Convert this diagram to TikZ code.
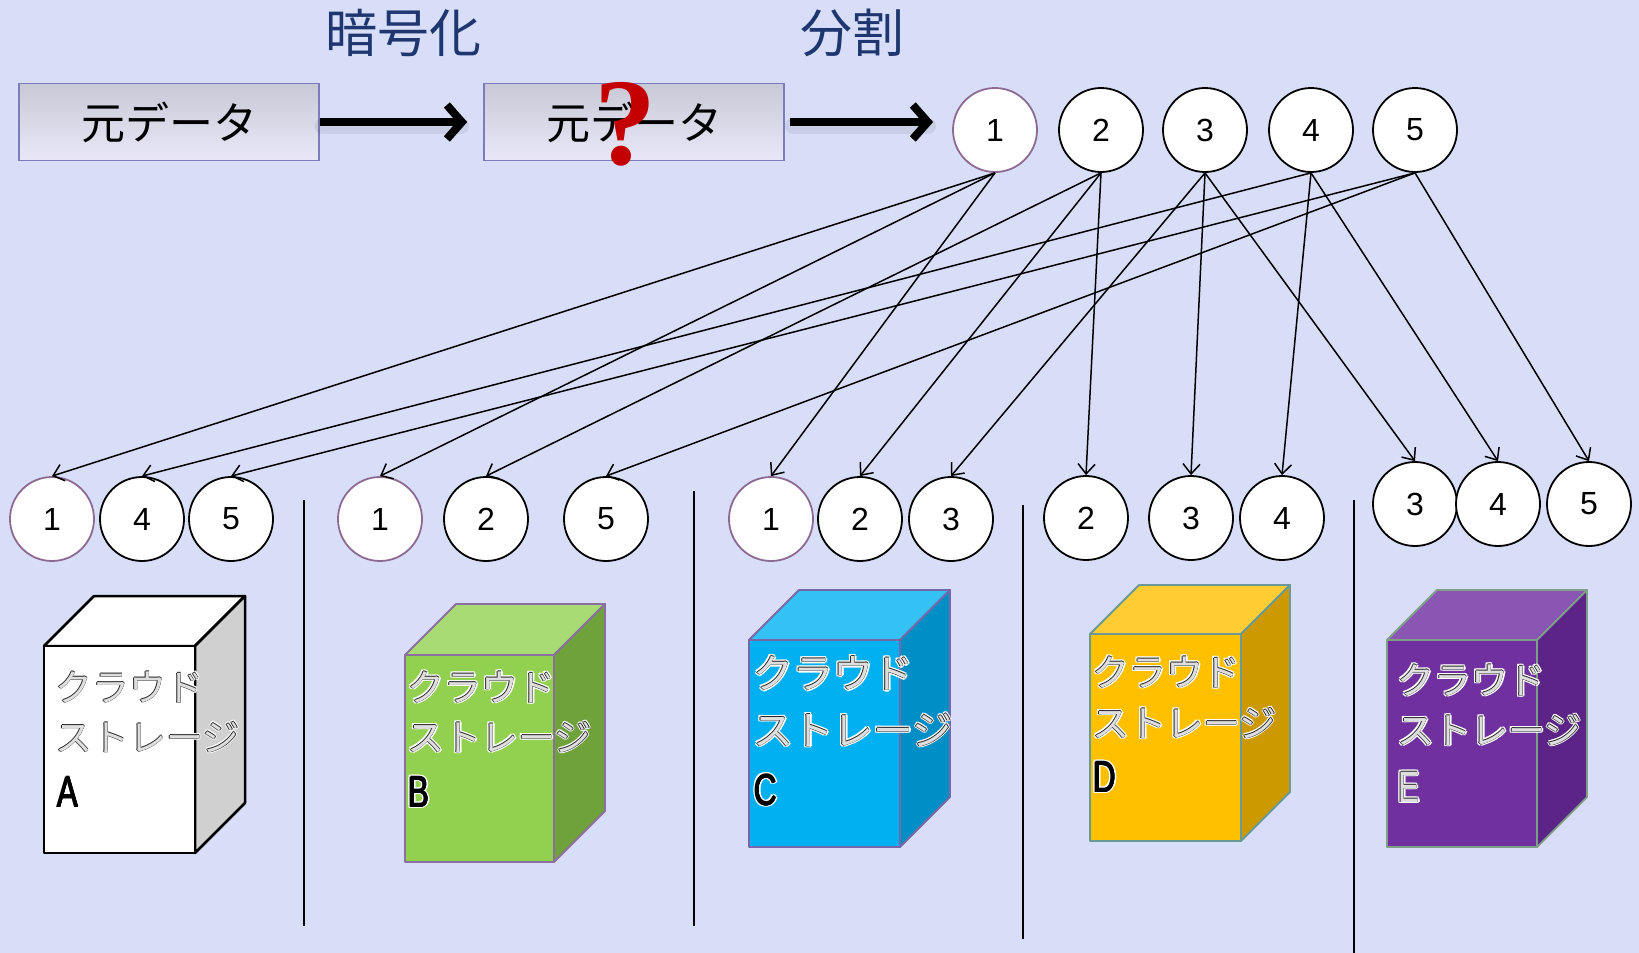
\documentclass[tikz,border=0pt]{standalone}
\usepackage{fontspec}
\usepackage{graphicx}
\setmainfont{Liberation Sans}
\newfontfamily\jp{Noto Sans CJK JP}
\newfontfamily\qfam{Liberation Serif}
\usetikzlibrary{arrows.meta}

\definecolor{bg}{RGB}{217,222,248}
\definecolor{navy}{RGB}{30,55,112}
\definecolor{boxedge}{RGB}{123,125,186}
\definecolor{boxtop}{RGB}{200,200,214}
\definecolor{boxbot}{RGB}{234,232,248}
\definecolor{mauve}{RGB}{140,106,146}
\definecolor{qred}{RGB}{196,0,0}
\definecolor{kana}{RGB}{222,222,222}
\definecolor{inkedge}{RGB}{35,35,35}
% cube colours
\definecolor{aside}{RGB}{208,208,208}
\definecolor{bfront}{RGB}{146,208,80}
\definecolor{btop}{RGB}{168,219,116}
\definecolor{bside}{RGB}{112,162,60}
\definecolor{bedge}{RGB}{140,111,160}
\definecolor{cfront}{RGB}{0,176,240}
\definecolor{ctop}{RGB}{51,194,243}
\definecolor{cside}{RGB}{0,142,198}
\definecolor{cedge}{RGB}{118,104,168}
\definecolor{dfront}{RGB}{255,192,0}
\definecolor{dtop}{RGB}{255,204,51}
\definecolor{dside}{RGB}{204,154,0}
\definecolor{dedge}{RGB}{106,154,152}
\definecolor{efront}{RGB}{112,48,160}
\definecolor{etop}{RGB}{139,86,179}
\definecolor{eside}{RGB}{91,36,134}
\definecolor{eedge}{RGB}{126,158,136}

% one shifted copy of a text
\newcommand\gcopy[4]{\rlap{\hspace*{#1}\raisebox{#2}{\textcolor{#3}{#4}}}}
% text with a white glow and a thin dark rim
\newcommand\halo[3]{%
  \gcopy{1.8pt}{0pt}{white}{#3}\gcopy{-1.8pt}{0pt}{white}{#3}%
  \gcopy{0pt}{1.8pt}{white}{#3}\gcopy{0pt}{-1.8pt}{white}{#3}%
  \gcopy{1.3pt}{1.3pt}{white}{#3}\gcopy{-1.3pt}{1.3pt}{white}{#3}%
  \gcopy{1.3pt}{-1.3pt}{white}{#3}\gcopy{-1.3pt}{-1.3pt}{white}{#3}%
  \gcopy{0.6pt}{0pt}{#2}{#3}\gcopy{-0.6pt}{0pt}{#2}{#3}%
  \gcopy{0pt}{0.6pt}{#2}{#3}\gcopy{0pt}{-0.6pt}{#2}{#3}%
  \textcolor{#1}{#3}}
\newcommand\letterglyph[1]{\scalebox{0.72}[1]{\fontsize{44}{44}\selectfont #1}}

% storage cube: x, y (front top-left), width, height, depth, front, top, side, edge style
\newcommand\storagebox[9]{%
  \filldraw[fill=#7,#9,line join=round] (#1,#2) -- ++(#5,-#5) -- ++(#3,0) -- ++(-#5,#5) -- cycle;
  \filldraw[fill=#8,#9,line join=round] (#1+#3,#2) -- ++(#5,-#5) -- ++(0,#4) -- ++(-#5,#5) -- cycle;
  \filldraw[fill=#6,#9,line join=round] (#1,#2) rectangle ++(#3,#4);
}

\begin{document}
\begin{tikzpicture}[x=1pt,y=-1pt,
  databox/.style={draw=boxedge,line width=1.6pt,top color=boxtop,bottom color=boxbot,
    minimum width=300pt,minimum height=77pt,inner sep=0pt,font=\jp\fontsize{44}{44}\selectfont},
  heading/.style={text=navy,inner sep=0pt,font=\jp\fontsize{52}{52}\selectfont},
  piece/.style={circle,draw=black,line width=1.8pt,fill=white,minimum size=84pt,inner sep=0pt,
    font=\fontsize{32}{32}\selectfont},
  piecefirst/.style={piece,draw=mauve},
  link/.style={line width=1.5pt,-{Straight Barb[length=10pt,width=17pt]}},
  bigarrow/.style={line width=8pt,-{Straight Barb[length=15pt,width=34pt]}},
  arrowshade/.style={line width=16pt,black,opacity=0.07,line cap=round},
  divider/.style={line width=2pt},
  kanatext/.style={anchor=west,inner sep=0pt,font=\jp\fontsize{37}{37}\selectfont},
  kanabig/.style={anchor=west,inner sep=0pt,font=\jp\fontsize{40}{40}\selectfont},
  lettertext/.style={anchor=west,inner sep=0pt},
]
\useasboundingbox (0,0) rectangle (1639,953);
\fill[bg] (0,0) rectangle (1639,953);

% headings
\node[heading] (encLabel) at (403,33) {暗号化};
\node[heading] (splitLabel) at (852,33) {分割};

% data boxes
\node[databox] (src) at (169,122) {元データ};
\node[databox] (enc) at (634,122) {元データ};
\node[text=qred,inner sep=0pt,font=\qfam\bfseries\fontsize{124}{124}\selectfont] (qmark) at (625,124) {?};

% fragments after splitting
\node[piecefirst] (t1) at (995,130) {1};
\node[piece] (t2) at (1101,130) {2};
\node[piece] (t3) at (1205,130) {3};
\node[piece] (t4) at (1311,130) {4};
\node[piece] (t5) at (1415,130) {5};

% thick process arrows
\draw[arrowshade] ([xshift=3pt,yshift=-4pt]src.east) -- ([xshift=-22pt,yshift=-4pt]enc.west);
\draw[arrowshade] ([xshift=8pt,yshift=-4pt]enc.east) -- ([xshift=-24pt,yshift=-4pt]enc.east -| t1.west);
\draw[bigarrow,shorten >=16pt] (src.east) -- (enc.west);
\draw[bigarrow,shorten <=5pt,shorten >=19pt] (enc.east) -- (enc.east -| t1.west);

% fragments held by each storage
\node[piecefirst] (a1) at (52,519) {1};
\node[piece] (a4) at (142,519) {4};
\node[piece] (a5) at (231,519) {5};
\node[piecefirst] (b1) at (380,519) {1};
\node[piece] (b2) at (486,519) {2};
\node[piece] (b5) at (606,519) {5};
\node[piecefirst] (c1) at (771,519) {1};
\node[piece] (c2) at (860,519) {2};
\node[piece] (c3) at (951,519) {3};
\node[piece] (d2) at (1086,518) {2};
\node[piece] (d3) at (1191,518) {3};
\node[piece] (d4) at (1282,518) {4};
\node[piece] (e3) at (1415,504) {3};
\node[piece] (e4) at (1498,504) {4};
\node[piece] (e5) at (1589,504) {5};

% distribution of fragments
\draw[link] (t1.south) -- (a1.north);
\draw[link] (t1.south) -- (b1.north);
\draw[link] (t1.south) -- (c1.north);
\draw[link] (t2.south) -- (b2.north);
\draw[link] (t2.south) -- (c2.north);
\draw[link] (t2.south) -- (d2.north);
\draw[link] (t3.south) -- (c3.north);
\draw[link] (t3.south) -- (d3.north);
\draw[link] (t3.south) -- (e3.north);
\draw[link] (t4.south) -- (a4.north);
\draw[link] (t4.south) -- (d4.north);
\draw[link] (t4.south) -- (e4.north);
\draw[link] (t5.south) -- (a5.north);
\draw[link] (t5.south) -- (b5.north);
\draw[link] (t5.south) -- (e5.north);

% column dividers
\draw[divider] (304,500) -- (304,926);
\draw[divider] (694,491) -- (694,926);
\draw[divider] (1023,505) -- (1023,939);
\draw[divider] (1354,500) -- (1354,953);

% storage cubes
\storagebox{44}{646}{151}{207}{50}{white}{white}{aside}{draw=black,line width=2.5pt}
\storagebox{405}{655}{149}{207}{51}{bfront}{btop}{bside}{draw=bedge,line width=1.8pt}
\storagebox{749}{640}{151}{207}{50}{cfront}{ctop}{cside}{draw=cedge,line width=1.8pt}
\storagebox{1090}{634}{151}{207}{49}{dfront}{dtop}{dside}{draw=dedge,line width=1.8pt}
\storagebox{1387}{640}{150}{207}{50}{efront}{etop}{eside}{draw=eedge,line width=1.8pt}

% storage labels
\node[kanatext] (a1t) at (55,687) {\halo{kana}{inkedge}{クラウド}};
\node[kanatext] (a2t) at (55,737) {\halo{kana}{inkedge}{ストレージ}};
\node[lettertext] (a3t) at (57,792) {\halo{black}{black}{\letterglyph{A}}};
\node[kanatext] (b1t) at (407,687) {\halo{kana}{inkedge}{クラウド}};
\node[kanatext] (b2t) at (407,737) {\halo{kana}{inkedge}{ストレージ}};
\node[lettertext] (b3t) at (408,792) {\halo{black}{black}{\letterglyph{B}}};
\node[kanabig] (c1t) at (753,673) {\halo{kana}{inkedge}{クラウド}};
\node[kanabig] (c2t) at (753,730) {\halo{kana}{inkedge}{ストレージ}};
\node[lettertext] (c3t) at (754,790) {\halo{black}{black}{\letterglyph{C}}};
\node[kanatext] (d1t) at (1092,672) {\halo{kana}{inkedge}{クラウド}};
\node[kanatext] (d2t) at (1092,723) {\halo{kana}{inkedge}{ストレージ}};
\node[lettertext] (d3t) at (1093,777) {\halo{black}{black}{\letterglyph{D}}};
\node[kanatext] (e1t) at (1397,680) {\halo{kana}{inkedge}{クラウド}};
\node[kanatext] (e2t) at (1397,730) {\halo{kana}{inkedge}{ストレージ}};
\node[lettertext] (e3t) at (1398,787) {\halo{kana}{inkedge}{\letterglyph{E}}};
\end{tikzpicture}
\end{document}
